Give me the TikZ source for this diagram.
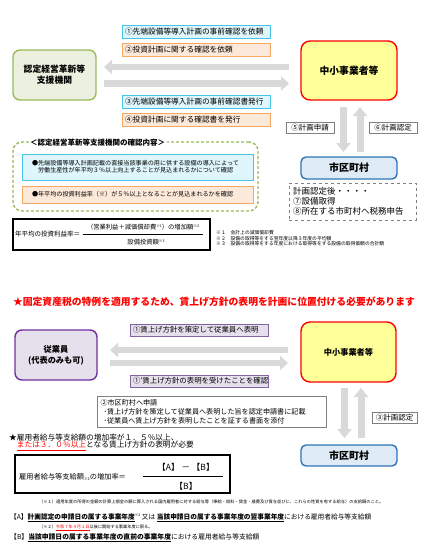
\documentclass[tikz,border=0pt]{standalone}
\usepackage{fontspec}
\setmainfont{Noto Sans CJK JP}
\usetikzlibrary{arrows.meta,calc}
\definecolor{cyB}{RGB}{70,196,230}
\definecolor{cyF}{RGB}{222,246,252}
\definecolor{orB}{RGB}{244,168,98}
\definecolor{orF}{RGB}{253,233,217}
\definecolor{grB}{RGB}{155,187,89}
\definecolor{grF}{RGB}{235,241,222}
\definecolor{ylF}{RGB}{255,255,153}
\definecolor{blB}{RGB}{46,117,182}
\definecolor{blF}{RGB}{222,235,247}
\definecolor{puB}{RGB}{112,48,160}
\definecolor{puF}{RGB}{230,224,236}
\definecolor{pu2B}{RGB}{128,100,162}
\definecolor{arG}{RGB}{217,217,217}
\definecolor{bdG}{RGB}{128,128,128}
\newcommand{\fsz}[2]{\fontsize{#1}{#2}\selectfont}
\newcommand{\jsup}[1]{\raisebox{0.45em}{\fsz{3.6}{4}#1}}
\newcommand{\jsub}[1]{\raisebox{-0.1em}{\fsz{3.8}{4}#1}}
\begin{document}
\begin{tikzpicture}[x=1pt,y=-1pt,
  lbox/.style={line width=0.9pt, inner xsep=3pt, inner ysep=0pt, align=left},
  cybox/.style={lbox, draw=cyB, fill=cyF, text width=142pt, minimum height=13pt, font=\fsz{7.7}{9}},
  orbox/.style={lbox, draw=orB, fill=orF, text width=142pt, minimum height=13pt, font=\fsz{7.7}{9}},
  pubox/.style={lbox, draw=pu2B, fill=puF, line width=1pt, text width=132pt, minimum height=12pt, font=\fsz{7.4}{9}},
  gbox/.style={draw=grB, fill=grF, line width=1.4pt, rounded corners=7pt, minimum width=83pt, minimum height=50pt, align=center, inner sep=0pt},
  ybox/.style={draw=red, fill=ylF, line width=1.4pt, rounded corners=9pt, align=center, inner sep=0pt},
  bbox/.style={draw=blB, fill=blF, line width=1.4pt, rounded corners=5pt, minimum width=96pt, minimum height=22pt, inner sep=0pt, font=\fsz{10}{12}\bfseries},
  pbox/.style={draw=puB, fill=puF, line width=1.4pt, rounded corners=7pt, minimum width=82pt, minimum height=50pt, align=center, inner sep=0pt},
  gybox/.style={draw=bdG, fill=white, line width=0.7pt, inner sep=0pt, minimum height=11pt, font=\fsz{7.5}{9}},
  garrow/.style={draw=arG, line width=6.5pt, -{Triangle[width=14pt,length=8pt]}},
  varrow/.style={draw=arG, line width=7pt, -{Triangle[width=14pt,length=9pt]}},
  fbox/.style={draw=black, line width=1.2pt, inner sep=0pt}
]
\useasboundingbox[fill=white] (0,0) rectangle (429,555);

% ---------- top section ----------
\node[gbox, font=\fsz{8.8}{11}\bfseries] (shien) at (54.5,75) {認定経営革新等\\支援機関};
\node[cybox] (b1) at (196,31.5) {①先端設備等導入計画の事前確認を依頼};
\node[orbox] (b2) at (196,49.5) {②投資計画に関する確認を依頼};
\node[cybox] (b3) at (196,101.5) {③先端設備等導入計画の事前確認書発行};
\node[orbox] (b4) at (196,119.5) {④投資計画に関する確認書を発行};
\node[ybox, minimum width=96pt, minimum height=59pt, font=\fsz{9.8}{11}\bfseries] (sme1) at (349,70.5) {中小事業者等};

\coordinate (a1t) at (289,67);   \coordinate (a1h) at (104,67);
\coordinate (a2t) at (104,83.5); \coordinate (a2h) at (289,83.5);
\draw[garrow] (a1t) -- (a1h);
\draw[garrow] (a2t) -- (a2h);

\node[gybox, minimum width=48pt] (l5) at (310,127.5) {⑤計画申請};
\node[gybox, minimum width=48pt] (l6) at (393,127.5) {⑥計画認定};

\node[bbox] (city1) at (349,168) {市区町村};
\coordinate (v1t) at (343.5,107); \coordinate (v1h) at (343.5,152);
\coordinate (v2t) at (360,152);   \coordinate (v2h) at (360,107);
\draw[varrow] (v1t) -- (v1h);
\draw[varrow] (v2t) -- (v2h);

\node[draw=bdG, dashed, line width=0.7pt, minimum width=127pt, minimum height=37pt, text width=119pt, inner xsep=4pt, inner ysep=0pt, align=left, font=\fsz{8.5}{10}] (notes) at (352.5,201.5) {計画認定後・・・・\\⑦設備取得\\⑧所在する市町村へ税務申告};

% confirmation box
\node[draw=grB, dash pattern=on 3pt off 2pt, line width=1.4pt, rounded corners=9pt, minimum width=245pt, minimum height=69pt, inner sep=0pt] (conf) at (135.5,176.5) {};
\node[fill=white, anchor=west, inner xsep=1.5pt, inner ysep=0.5pt, font=\fsz{7.5}{9}\bfseries] (conft) at (28.5,143) {＜認定経営革新等支援機関の確認内容＞};
\node[lbox, draw=cyB, fill=cyF, text width=211pt, inner xsep=10pt, minimum height=26pt, font=\fsz{6.1}{7.2}] (c1) at (137.5,167) {●先端設備等導入計画記載の直接当該事業の用に供する設備の導入によって\\\phantom{●}労働生産性が年平均３％以上向上することが見込まれるかについて確認};
\node[lbox, draw=orB, fill=orF, text width=211pt, inner xsep=10pt, minimum height=17pt, font=\fsz{6.1}{7.2}] (c2) at (137.5,194.5) {●年平均の投資利益率（※）が５％以上となることが見込まれるかを確認};

% formula 1
\node[fbox, minimum width=197pt, minimum height=31pt] (f1) at (111.5,234.5) {};
\node[anchor=west, inner sep=0pt, font=\fsz{6.5}{8}] (f1l) at (15,234.5) {年平均の投資利益率＝};
\node[inner sep=0pt, font=\fsz{6.3}{8}] (f1n) at (143,227.5) {（営業利益＋減価償却費\jsup{※1}）の増加額\jsup{※2}};
\node[inner sep=0pt, font=\fsz{6.3}{8}] (f1d) at (146,242.5) {設備投資額\jsup{※3}};
\coordinate (f1a) at (83,234.5); \coordinate (f1b) at (203,234.5);
\draw[line width=0.8pt] (f1a) -- (f1b);

\node[anchor=west, inner sep=0pt, align=left, font=\fsz{4.8}{5.6}] (fn1) at (216,238.5) {※１　会計上の減価償却費\\※２　設備の取得等をする翌年度以降３年度の平均額\\※３　設備の取得等をする年度における取得等をする設備の取得価額の合計額};

% ---------- heading ----------
\node[inner sep=0pt, text=red, font=\fsz{9.8}{11}\bfseries] (head) at (214,302) {★固定資産税の特例を適用するため、賃上げ方針の表明を計画に位置付ける必要があります};

% ---------- bottom section ----------
\node[pbox, font=\fsz{8.2}{11}\bfseries] (emp) at (56,355) {従業員\\(代表のみも可)};
\node[pubox] (p1) at (199,330) {①賃上げ方針を策定して従業員へ表明};
\node[pubox] (p2) at (199,381) {①'賃上げ方針の表明を受けたことを確認};
\node[ybox, minimum width=95pt, minimum height=60pt, font=\fsz{8.2}{10}\bfseries] (sme2) at (348.5,352) {中小事業者等};

\coordinate (a3t) at (288,350); \coordinate (a3h) at (110,350);
\coordinate (a4t) at (110,363); \coordinate (a4h) at (288,363);
\draw[garrow] (a3t) -- (a3h);
\draw[garrow] (a4t) -- (a4h);

\node[draw=bdG, line width=0.7pt, minimum width=229pt, minimum height=31pt, text width=222pt, inner xsep=3.5pt, inner ysep=0pt, align=left, font=\fsz{7.1}{9}] (apply) at (211.5,411.5) {②市区町村へ申請\\\hspace*{3pt}･賃上げ方針を策定して従業員へ表明した旨を認定申請書に記載\\\hspace*{3pt}･従業員へ賃上げ方針を表明したことを証する書面を添付};

\node[gybox, minimum width=45pt] (l3) at (394.5,417.5) {③計画認定};
\coordinate (v3t) at (344.5,388); \coordinate (v3h) at (344.5,438);
\coordinate (v4t) at (361,438);   \coordinate (v4h) at (361,388);
\draw[varrow] (v3t) -- (v3h);
\draw[varrow] (v4t) -- (v4h);
\node[bbox, minimum height=21pt] (city2) at (349,455.5) {市区町村};

\node[anchor=west, inner sep=0pt, font=\fsz{7.7}{9}] (t1) at (9,437.5) {★雇用者給与等支給額の増加率が１．５％以上、};
\node[anchor=west, inner sep=0pt, font=\fsz{7.7}{9}] (t2) at (16.7,446) {\textcolor{red}{\underline{または３．０％以上}}となる賃上げ方針の表明が必要};

\node[fbox, minimum width=215pt, minimum height=38pt] (f2) at (122.5,474) {};
\node[anchor=west, inner sep=0pt, font=\fsz{7.2}{9}] (f2l) at (19,477) {雇用者給与等支給額\jsub{※1}の増加率＝};
\node[inner sep=0pt, font=\fsz{8.5}{10}] (f2n) at (186,467.5) {【A】 － 【B】};
\node[inner sep=0pt, font=\fsz{8.5}{10}] (f2d) at (186,486) {【B】};
\coordinate (f2a) at (143,476); \coordinate (f2b) at (223,476);
\draw[line width=0.8pt] (f2a) -- (f2b);

\node[anchor=west, inner sep=0pt, font=\fsz{4.25}{5}] (fn2) at (39,502) {（※１）適用年度の所得の金額の計算上損金の額に算入される国内雇用者に対する給与等（俸給・給料・賃金・歳費及び賞与並びに、これらの性質を有する給与）の支給額のこと。};

\node[anchor=west, inner sep=0pt, font=\fsz{6.7}{8}] (la) at (10,518) {【A】\underline{\textbf{計画認定の申請日の属する事業年度}}\jsup{※2} 又は \underline{\textbf{当該申請日の属する事業年度の翌事業年度}}における雇用者給与等支給額};
\node[anchor=west, inner sep=0pt, font=\fsz{4.2}{5}] (n2) at (39,528) {（※２）\textcolor{red}{\underline{令和７年４月１日}}以後に開始する事業年度に限る。};
\node[anchor=west, inner sep=0pt, font=\fsz{6.8}{8}] (lb) at (10,538) {【B】\underline{\textbf{当該申請日の属する事業年度の直前の事業年度}}における雇用者給与等支給額};
\end{tikzpicture}
\end{document}
